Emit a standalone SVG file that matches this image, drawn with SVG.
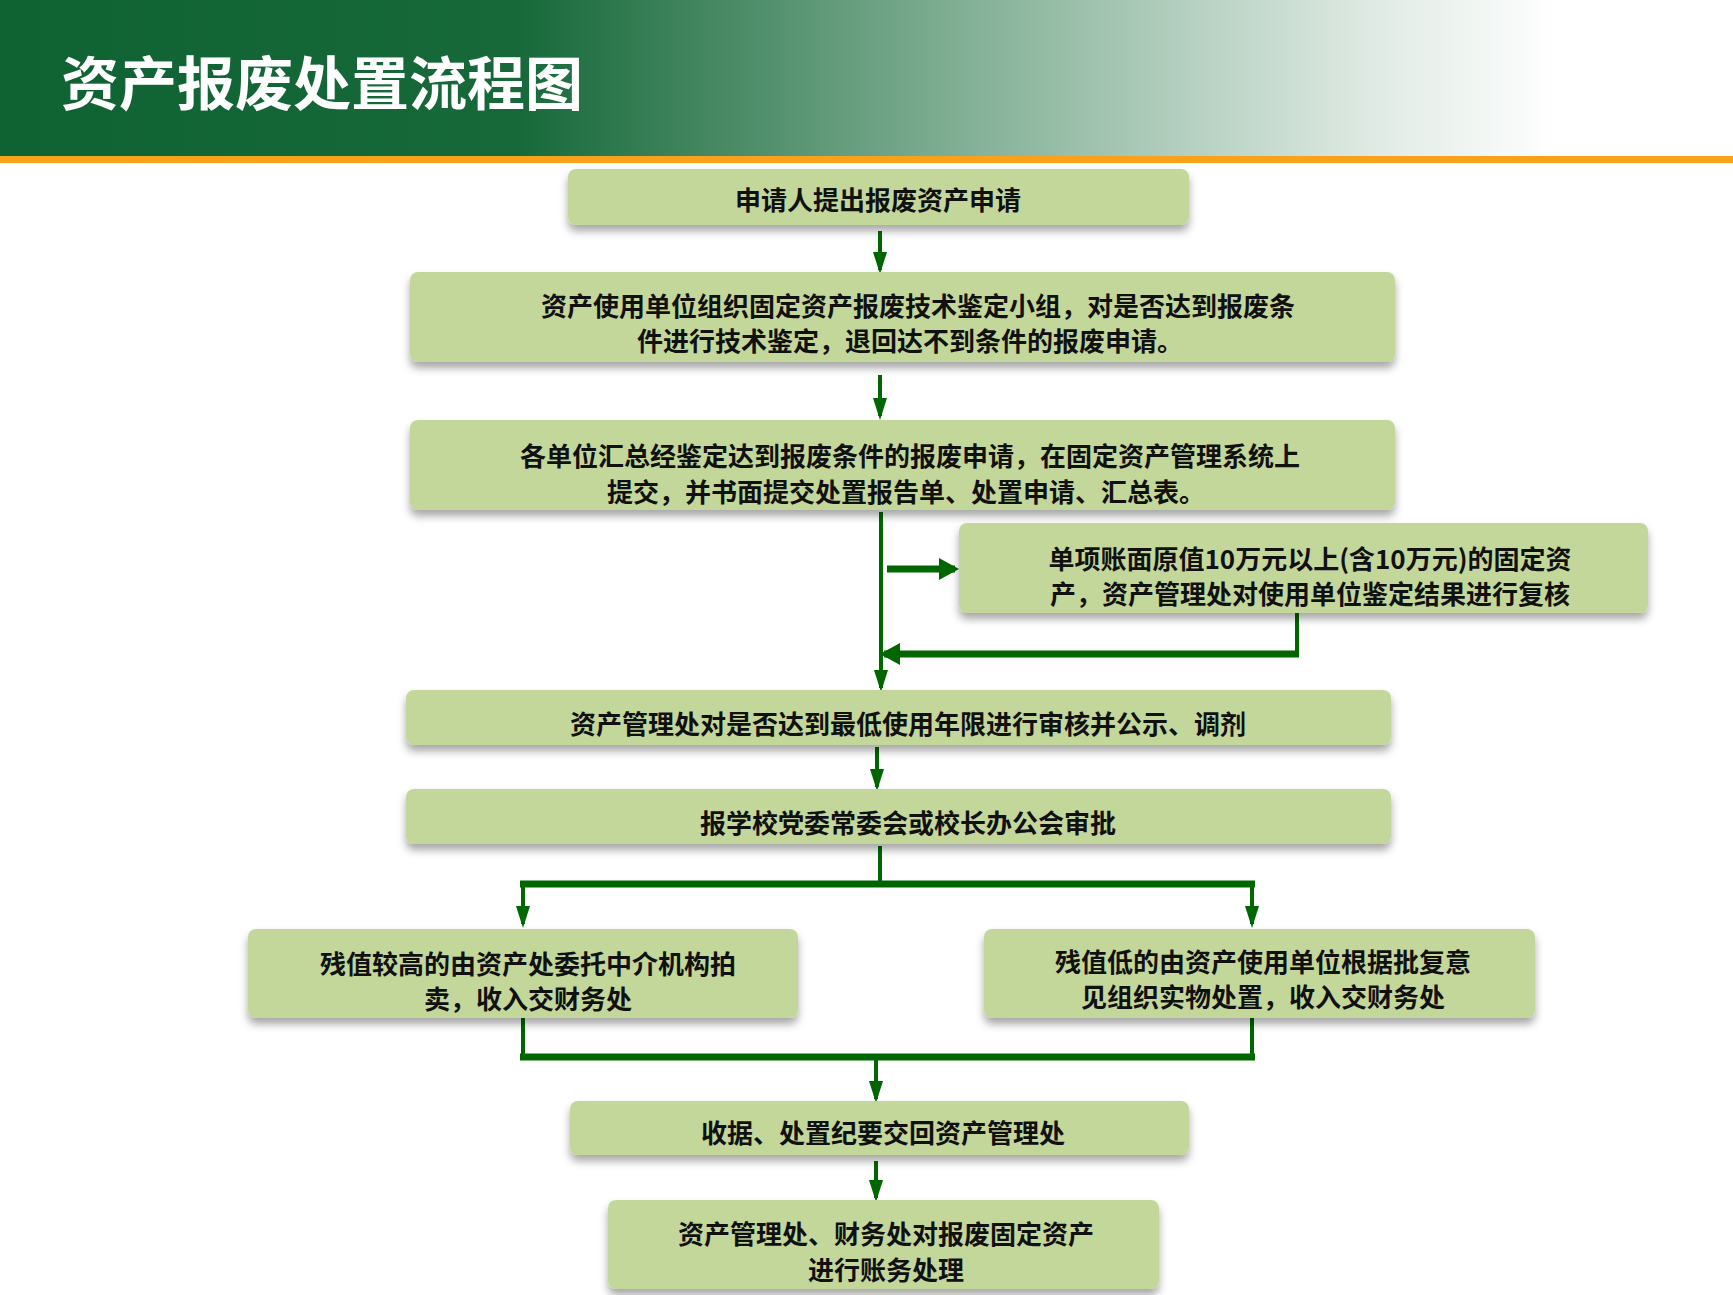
<svg xmlns="http://www.w3.org/2000/svg" width="1733" height="1295" viewBox="0 0 1733 1295">
<defs>
<linearGradient id="hg" x1="0" y1="0" x2="1" y2="0">
<stop offset="0" stop-color="#0F6232"/><stop offset="0.3" stop-color="#17693a"/><stop offset="0.55" stop-color="#7FAE93"/><stop offset="0.8" stop-color="#E2ECE6"/><stop offset="0.9" stop-color="#ffffff"/></linearGradient>
<filter id="sh" x="-5%" y="-20%" width="110%" height="150%"><feDropShadow dx="0" dy="6" stdDeviation="4" flood-color="#000" flood-opacity="0.35"/></filter>
<marker id="ah" markerWidth="20" markerHeight="22" refX="16" refY="11" orient="auto" markerUnits="userSpaceOnUse"><path d="M0,0 L20,11 L0,22 z" fill="#006600"/></marker>
<marker id="ah2" markerWidth="22" markerHeight="14" refX="18" refY="7" orient="auto" markerUnits="userSpaceOnUse"><path d="M0,0 L22,7 L0,14 z" fill="#006600"/></marker>
</defs>
<style>
.b{fill:#C4D79B;filter:url(#sh)}
.t{font-family:"Noto Sans CJK SC","Liberation Sans",sans-serif;font-weight:bold;font-size:26px;fill:#111;text-anchor:middle;dominant-baseline:central}
.c{stroke:#006600;stroke-width:4;fill:none}
.w{stroke:#006600;stroke-width:7;fill:none}
</style>
<rect x="0" y="0" width="1733" height="157" fill="url(#hg)"/>
<rect x="0" y="156" width="1733" height="7" fill="#F9A11B"/>
<text x="61" y="80" font-family="Noto Sans CJK SC,sans-serif" font-weight="bold" font-size="58" fill="#fff" dominant-baseline="central">资产报废处置流程图</text>
<g id="connectors">
<path class="c" d="M880,231 V270" marker-end="url(#ah2)"/>
<path class="c" d="M880,375 V416" marker-end="url(#ah2)"/>
<path class="c" d="M881,512 V688" marker-end="url(#ah2)"/>
<path class="w" d="M887,569 H955" marker-end="url(#ah)"/>
<path class="c" d="M1297,613 V654"/>
<path class="w" d="M1299,654 H884" marker-end="url(#ah)"/>
<path class="c" d="M877,747 V787" marker-end="url(#ah2)"/>
<path class="c" d="M880,846 V884"/>
<path class="w" d="M520,884 H1255"/>
<path class="c" d="M523,884 V924" marker-end="url(#ah2)"/>
<path class="c" d="M1252,884 V924" marker-end="url(#ah2)"/>
<path class="c" d="M523,1018 V1057"/>
<path class="c" d="M1252,1018 V1057"/>
<path class="w" d="M520,1057 H1255"/>
<path class="c" d="M876,1057 V1099" marker-end="url(#ah2)"/>
<path class="c" d="M876,1161 V1198" marker-end="url(#ah2)"/>
</g>
<g id="n1"><rect class="b" x="568" y="169" width="621" height="56" rx="8"/><text class="t" x="878" y="198">申请人提出报废资产申请</text></g>
<g id="n2"><rect class="b" x="410" y="272" width="985" height="90" rx="8"/><text class="t" x="918" y="304">资产使用单位组织固定资产报废技术鉴定小组，对是否达到报废条</text><text class="t" x="910" y="339">件进行技术鉴定，退回达不到条件的报废申请。</text></g>
<g id="n3"><rect class="b" x="410" y="420" width="985" height="90" rx="8"/><text class="t" x="910" y="454">各单位汇总经鉴定达到报废条件的报废申请，在固定资产管理系统上</text><text class="t" x="906" y="490">提交，并书面提交处置报告单、处置申请、汇总表。</text></g>
<g id="n4"><rect class="b" x="959" y="523" width="689" height="90" rx="8"/><text class="t" x="1310" y="557">单项账面原值10万元以上(含10万元)的固定资</text><text class="t" x="1310" y="592">产，资产管理处对使用单位鉴定结果进行复核</text></g>
<g id="n5"><rect class="b" x="406" y="690" width="985" height="55" rx="8"/><text class="t" x="908" y="722">资产管理处对是否达到最低使用年限进行审核并公示、调剂</text></g>
<g id="n6"><rect class="b" x="406" y="789" width="985" height="55" rx="8"/><text class="t" x="908" y="821">报学校党委常委会或校长办公会审批</text></g>
<g id="n7"><rect class="b" x="248" y="929" width="550" height="89" rx="8"/><text class="t" x="528" y="962">残值较高的由资产处委托中介机构拍</text><text class="t" x="528" y="997">卖，收入交财务处</text></g>
<g id="n8"><rect class="b" x="984" y="929" width="551" height="89" rx="8"/><text class="t" x="1263" y="960">残值低的由资产使用单位根据批复意</text><text class="t" x="1263" y="995">见组织实物处置，收入交财务处</text></g>
<g id="n9"><rect class="b" x="570" y="1101" width="619" height="54" rx="8"/><text class="t" x="883" y="1131">收据、处置纪要交回资产管理处</text></g>
<g id="n10"><rect class="b" x="608" y="1200" width="551" height="89" rx="8"/><text class="t" x="886" y="1232">资产管理处、财务处对报废固定资产</text><text class="t" x="886" y="1268">进行账务处理</text></g>
</svg>
